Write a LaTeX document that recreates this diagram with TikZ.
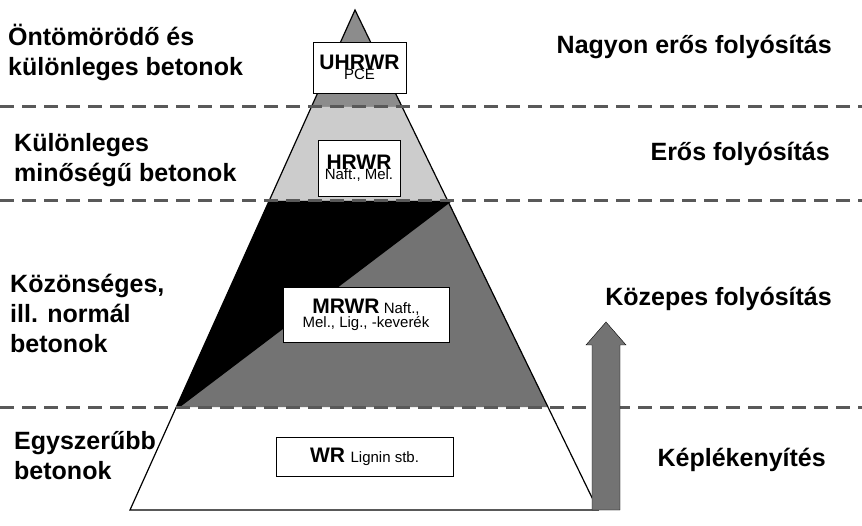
\documentclass[tikz,border=0pt]{standalone}
\usepackage{fontspec}
\setmainfont{Liberation Sans}
\begin{document}
\begin{tikzpicture}[x=1pt,y=-1pt,
  lbl/.style={font=\bfseries\fontsize{25}{30}\selectfont,align=left,inner sep=0},
  rlbl/.style={font=\bfseries\fontsize{25}{30}\selectfont,inner sep=0},
  box/.style={draw=black,fill=white,inner sep=0},
  sepline/.style={line width=3pt,dash pattern=on 14pt off 8pt,color=black!65}]
\useasboundingbox (0,0) rectangle (862,526);
\coordinate (apex) at (355,10);
\coordinate (bl) at (130,510);
\coordinate (br) at (598,510);
% sections
\fill[black!45] (355,10) -- (402.4,107) -- (311.4,107) -- cycle;
\fill[black!20] (311.4,107) -- (402.4,107) -- (448.1,201) -- (269.1,201) -- cycle;
\fill[black!55] (269.1,201) -- (448.1,201) -- (548.2,407) -- (176.4,407) -- cycle;
\fill[black] (269.1,201) -- (452,201) -- (180,407) -- (176.4,407) -- cycle;
\draw[line width=1.2pt] (apex) -- (br) -- (bl) -- cycle;
% dashed lines
\draw[sepline] (0,107) -- (862,107);
\draw[sepline] (0,201) -- (862,201);
\draw[sepline] (0,407) -- (862,407);
% boxes
\node[box,minimum width=93,minimum height=51,align=center] (b1) at (359.5,67.5)
  {{\bfseries\fontsize{21}{23}\selectfont UHRWR}\\[-2pt]{\fontsize{15}{16}\selectfont PCE}};
\node[box,minimum width=82,minimum height=56,align=center] (b2) at (359,168)
  {{\bfseries\fontsize{21}{23}\selectfont HRWR}\\[-2pt]{\fontsize{15}{16}\selectfont Naft., Mel.}};
\node[box,minimum width=166,minimum height=55,align=center] (b3) at (366,314.5)
  {{\bfseries\fontsize{21}{23}\selectfont MRWR}{\fontsize{15}{16}\selectfont\ Naft.,}\\[0pt]{\fontsize{15}{16}\selectfont Mel., Lig., -keverék}};
\node[box,minimum width=177,minimum height=39] (b4) at (364.5,456.5)
  {{\bfseries\fontsize{21}{23}\selectfont WR}\ \ {\fontsize{15}{16}\selectfont Lignin stb.}};
% arrow
\fill[black!55,draw=black] (592,510) -- (592,345) -- (586,345) -- (606,322) -- (626,345) -- (620,345) -- (620,510) -- cycle;
% left labels
\node[lbl,anchor=north west] (l1) at (8,24) {Öntömörödő és\\különleges betonok};
\node[lbl,anchor=north west] (l2) at (14,133) {Különleges\\minőségű betonok};
\node[lbl,anchor=north west] (l3) at (10,274) {Közönséges,\\ill. normál\\betonok};
\node[lbl,anchor=north west] (l4) at (14,431) {Egyszerűbb\\betonok};
% right labels
\node[rlbl,anchor=east] (r1) at (832,47) {Nagyon erős folyósítás};
\node[rlbl,anchor=east] (r2) at (830,154) {Erős folyósítás};
\node[rlbl,anchor=east] (r3) at (832,299) {Közepes folyósítás};
\node[rlbl,anchor=east] (r4) at (826,460) {Képlékenyítés};
\end{tikzpicture}
\end{document}
